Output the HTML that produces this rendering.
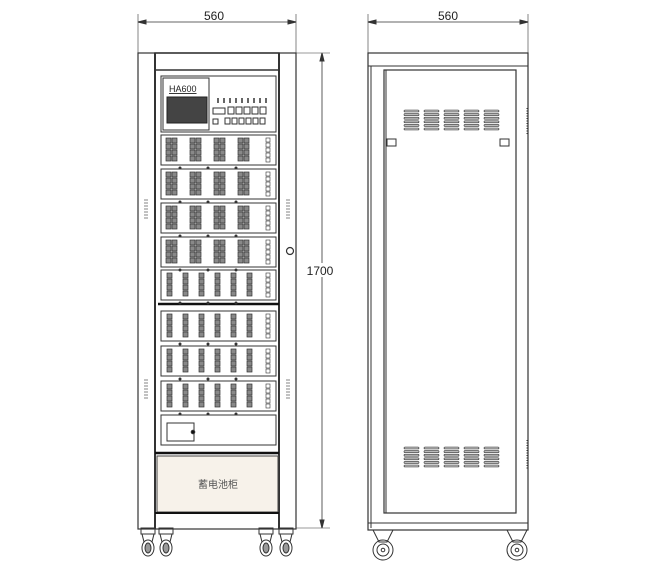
<!DOCTYPE html>
<html><head><meta charset="utf-8"><style>
html,body{margin:0;padding:0;background:#fff;}
svg{display:block;}
text{font-family:"Liberation Sans",sans-serif;}
</style></head><body>
<svg id="s" width="650" height="568" viewBox="0 0 650 568" xmlns="http://www.w3.org/2000/svg" fill="none" stroke="#333" stroke-width="1">
<line x1="138" y1="22" x2="296" y2="22" stroke-width="0.8"/>
<line x1="138" y1="14" x2="138" y2="53" stroke-width="0.6"/>
<line x1="296" y1="14" x2="296" y2="53" stroke-width="0.6"/>
<polygon points="138,22 146,20 146,24" fill="#333"/>
<polygon points="296,22 288,20 288,24" fill="#333"/>
<text x="214" y="20" font-size="12" fill="#222" stroke="none" text-anchor="middle">560</text>
<line x1="322" y1="53" x2="322" y2="528" stroke-width="0.8"/>
<line x1="296" y1="53" x2="330" y2="53" stroke-width="0.6"/>
<line x1="296" y1="528" x2="330" y2="528" stroke-width="0.6"/>
<polygon points="322,53 320,61 324,61" fill="#333"/>
<polygon points="322,528 320,520 324,520" fill="#333"/>
<rect x="306" y="263" width="30" height="14" fill="#fff" stroke="none"/>
<text x="320" y="275" font-size="12" fill="#222" stroke="none" text-anchor="middle">1700</text>
<line x1="368" y1="22" x2="528" y2="22" stroke-width="0.8"/>
<line x1="368" y1="14" x2="368" y2="53" stroke-width="0.6"/>
<line x1="528" y1="14" x2="528" y2="53" stroke-width="0.6"/>
<polygon points="368,22 376,20 376,24" fill="#333"/>
<polygon points="528,22 520,20 520,24" fill="#333"/>
<text x="448" y="20" font-size="12" fill="#222" stroke="none" text-anchor="middle">560</text>

<rect x="138" y="53" width="158" height="476" stroke-width="1.2"/>
<rect x="138" y="53" width="17" height="476"/>
<rect x="279" y="53" width="17" height="476"/>
<rect x="155" y="53" width="124" height="17" stroke-width="1.5"/>
<line x1="155" y1="53" x2="155" y2="529" stroke-width="2"/>
<line x1="279" y1="53" x2="279" y2="529" stroke-width="2"/>
<rect x="161" y="76" width="115" height="56"/>
<rect x="163" y="78" width="46" height="52"/>
<text x="169" y="92" font-size="9" fill="#222" stroke="none" text-decoration="underline">HA600</text>
<rect x="167" y="97" width="40" height="26" fill="#444" stroke="#222"/>
<line x1="158" y1="304" x2="279" y2="304" stroke-width="2.5" stroke="#111"/>
<rect x="161" y="415" width="115" height="30"/>
<rect x="167" y="423" width="27" height="18"/>
<circle cx="193" cy="432" r="1.8" fill="#111"/>
<line x1="155" y1="453" x2="279" y2="453" stroke-width="2.5" stroke="#111"/>
<rect x="157" y="456" width="121" height="56" fill="#f7f2ea" stroke="#444"/>
<text x="218" y="488" font-size="10" fill="#555" stroke="none" text-anchor="middle" font-family="Noto Sans CJK SC,sans-serif">蓄电池柜</text>
<line x1="155" y1="513" x2="279" y2="513" stroke-width="2" stroke="#111"/>
<circle cx="290" cy="251" r="3.5" stroke-width="1.2"/>

<rect x="368" y="53" width="160" height="477" stroke-width="1.2"/>
<line x1="371" y1="66" x2="371" y2="528"/>
<line x1="368" y1="66" x2="528" y2="66"/>
<rect x="384" y="70" width="132" height="443" stroke-width="1.2"/>
<line x1="386" y1="70" x2="386" y2="513"/>
<line x1="368" y1="523" x2="528" y2="523"/>
<rect x="387" y="139" width="9" height="7"/>
<rect x="500" y="139" width="9" height="7"/>
<line x1="527" y1="108" x2="527" y2="135" stroke-dasharray="1 1.5"/>
<line x1="527" y1="440" x2="527" y2="470" stroke-dasharray="1 1.5"/>
<g id="dyn"></g>
</svg>
<script>
const g=document.getElementById('dyn');let h='';
function R(x,y,w,hh,a){h+=`<rect x="${x}" y="${y}" width="${w}" height="${hh}" ${a||''}/>`;}
function L(x1,y1,x2,y2,a){h+=`<line x1="${x1}" y1="${y1}" x2="${x2}" y2="${y2}" ${a||''}/>`;}
for(let i=0;i<9;i++){L(218+i*6,98,218+i*6,103,'stroke-width="1.5"');}
R(213,108,12,6);for(let i=0;i<5;i++)R(228+i*8,107,6,7);
R(213,119,5,5);for(let i=0;i<6;i++)R(225+i*7,118,5,6);
const topY=[135,169,203,237];
topY.forEach(y=>{R(161,y,115,30);
 for(let k=0;k<4;k++){let x=166+k*24;for(let r=0;r<4;r++){R(x,y+3+r*6,5,5,'stroke-width="0.7" fill="#888"');R(x+6,y+3+r*6,5,5,'stroke-width="0.7" fill="#888"');}}
 for(let r=0;r<5;r++)R(266,y+3+r*5,4,4,'stroke-width="0.6"');
 [180,208,236].forEach(x=>h+=`<circle cx="${x}" cy="${y+33}" r="1" fill="#333"/>`);
});
const botY=[270,311,346,381];
botY.forEach(y=>{R(161,y,115,30);
 for(let k=0;k<6;k++){let x=167+k*16;for(let r=0;r<4;r++)R(x,y+3+r*6,5,5,'stroke-width="0.7" fill="#888"');}
 for(let r=0;r<5;r++)R(266,y+3+r*5,4,4,'stroke-width="0.6"');
 [180,208,236].forEach(x=>h+=`<circle cx="${x}" cy="${y+33}" r="1" fill="#333"/>`);
});
[[146,200],[288,200],[146,380],[288,380]].forEach(p=>{for(let i=0;i<7;i++)L(p[0]-2,p[1]+i*3,p[0]+2,p[1]+i*3,'stroke-width="0.6"');});
[[110],[447]].forEach(v=>{for(let k=0;k<5;k++){for(let r=0;r<6;r++)R(404+k*20,v[0]+r*3.6,15,2,'rx="1" stroke-width="0.6" fill="#bbb"');}});
function wheel(cx,cy){R(cx-7,cy-20,14,6);L(cx-6,cy-14,cx-4,cy-6);L(cx+6,cy-14,cx+4,cy-6);h+=`<ellipse cx="${cx}" cy="${cy}" rx="6" ry="8"/><ellipse cx="${cx}" cy="${cy}" rx="3" ry="5" fill="#999"/>`;}
wheel(148,548);wheel(166,548);wheel(266,548);wheel(286,548);
[[383,550],[517,550]].forEach(([cx,cy])=>{h+=`<polygon points="${cx-10},${cy-20} ${cx+10},${cy-20} ${cx+4},${cy-8} ${cx-4},${cy-8}"/><circle cx="${cx}" cy="${cy}" r="10"/><circle cx="${cx}" cy="${cy}" r="6"/><circle cx="${cx}" cy="${cy}" r="1.8"/>`;});
g.innerHTML=h;
</script>
</body></html>
